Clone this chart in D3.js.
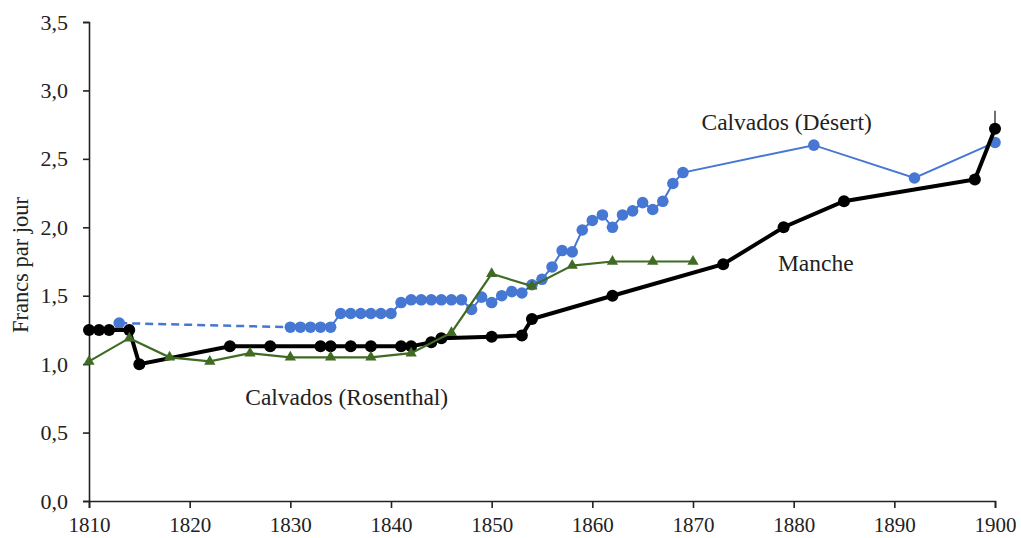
<!DOCTYPE html>
<html><head><meta charset="utf-8">
<script src="https://cdn.jsdelivr.net/npm/d3@7"></script>
<style>body{margin:0;background:#fff}svg{display:block}svg text{font-family:"Liberation Serif","Tinos","Times New Roman",serif}</style>
</head><body>
<svg id="c" width="1021" height="538"></svg>
<script>
// Manche (black)
const mancheYears = [1810,1811,1812,1814,1815,1824,1828,1833,1834,1836,1838,1841,1842,1844,1845,1850,1853,1854,1862,1873,1879,1885,1898,1900];
const mancheValues = [1.25,1.25,1.25,1.25,1.00,1.13,1.13,1.13,1.13,1.13,1.13,1.13,1.13,1.16,1.19,1.20,1.21,1.33,1.50,1.73,2.00,2.19,2.35,2.72];
// Calvados (Désert) (blue) — first point joined by a dashed segment
const desertYears = [1813,1830,1831,1832,1833,1834,1835,1836,1837,1838,1839,1840,1841,1842,1843,1844,1845,1846,1847,1848,1849,1850,1851,1852,1853,1854,1855,1856,1857,1858,1859,1860,1861,1862,1863,1864,1865,1866,1867,1868,1869,1882,1892,1900];
const desertValues = [1.30,1.27,1.27,1.27,1.27,1.27,1.37,1.37,1.37,1.37,1.37,1.37,1.45,1.47,1.47,1.47,1.47,1.47,1.47,1.40,1.49,1.45,1.50,1.53,1.52,1.58,1.62,1.71,1.83,1.82,1.98,2.05,2.09,2.00,2.09,2.12,2.18,2.13,2.19,2.32,2.40,2.60,2.36,2.62];
// Calvados (Rosenthal) (green)
const rosenthalYears = [1810,1814,1818,1822,1826,1830,1834,1838,1842,1846,1850,1854,1858,1862,1866,1870];
const rosenthalValues = [1.02,1.19,1.05,1.02,1.08,1.05,1.05,1.05,1.08,1.23,1.66,1.57,1.72,1.75,1.75,1.75];
const xTicks = [1810,1820,1830,1840,1850,1860,1870,1880,1890,1900];
const yTicks = [0,0.5,1,1.5,2,2.5,3,3.5];
const labels = [
  {text:"Calvados (Désert)", year:1879.3, value:2.75},
  {text:"Manche", year:1882.2, value:1.72},
  {text:"Calvados (Rosenthal)", year:1835.6, value:0.74}
];

const svg = d3.select("#c");
const L=89, R=995, T=22, B=501;
const x = d3.scaleLinear().domain([1810,1900]).range([L,R]);
const y = d3.scaleLinear().domain([0,3.5]).range([B,T]);
const fmt = d => d.toFixed(1).replace('.', ',');

const xa = svg.append("g").attr("transform",`translate(0,${B})`)
  .call(d3.axisBottom(x).tickValues(xTicks).tickFormat(d3.format("d")).tickSizeOuter(0).tickSize(7));
xa.selectAll("text").style("font-size","21px").attr("fill","#222").attr("y",31).attr("dy",0);
const ya = svg.append("g").attr("transform",`translate(${L},0)`)
  .call(d3.axisLeft(y).tickValues(yTicks).tickFormat(fmt).tickSizeOuter(0).tickSize(6));
ya.selectAll("text").style("font-size","22px").attr("fill","#222").attr("x",-21);
svg.selectAll(".domain, .tick line").attr("stroke","#222").attr("stroke-width",1.6);

svg.append("text").attr("transform",`translate(28,265) rotate(-90)`)
  .attr("text-anchor","middle").style("font-size","22.5px").attr("fill","#222")
  .text("Francs par jour");

const line = d3.line().x(d=>x(d[0])).y(d=>y(d[1]));
const desert = desertYears.map((yr,i)=>[yr,desertValues[i]]);
const manche = mancheYears.map((yr,i)=>[yr,mancheValues[i]]);
const rosen = rosenthalYears.map((yr,i)=>[yr,rosenthalValues[i]]);

const blue = "#4677d3", green = "#3f6b24";
// blue
svg.append("path").attr("d",line(desert.slice(0,2))).attr("fill","none").attr("stroke",blue)
  .attr("stroke-width",2.5).attr("stroke-dasharray","8,5");
svg.append("path").attr("d",line(desert.slice(1))).attr("fill","none").attr("stroke",blue).attr("stroke-width",2);
svg.append("g").selectAll("circle").data(desert).join("circle")
  .attr("cx",d=>x(d[0])).attr("cy",d=>y(d[1])).attr("r",5.8).attr("fill",blue);
// black
svg.append("line").attr("x1",x(1900)).attr("x2",x(1900)).attr("y1",y(2.72)).attr("y2",y(2.72)-18)
  .attr("stroke","#111").attr("stroke-width",1.2);
svg.append("path").attr("d",line(manche)).attr("fill","none").attr("stroke","#000").attr("stroke-width",4);
svg.append("g").selectAll("circle").data(manche).join("circle")
  .attr("cx",d=>x(d[0])).attr("cy",d=>y(d[1])).attr("r",6).attr("fill","#000");
// green
svg.append("path").attr("d",line(rosen)).attr("fill","none").attr("stroke",green).attr("stroke-width",2.2);
svg.append("g").selectAll("path").data(rosen).join("path")
  .attr("transform",d=>`translate(${x(d[0])},${y(d[1])})`)
  .attr("d",d3.symbol(d3.symbolTriangle,55)).attr("fill",green);

svg.append("g").selectAll("text").data(labels).join("text")
  .attr("x",d=>x(d.year)).attr("y",d=>y(d.value)).attr("text-anchor","middle")
  .attr("dominant-baseline","middle").style("font-size","23.5px").attr("fill","#222")
  .text(d=>d.text);
</script>
</body></html>
